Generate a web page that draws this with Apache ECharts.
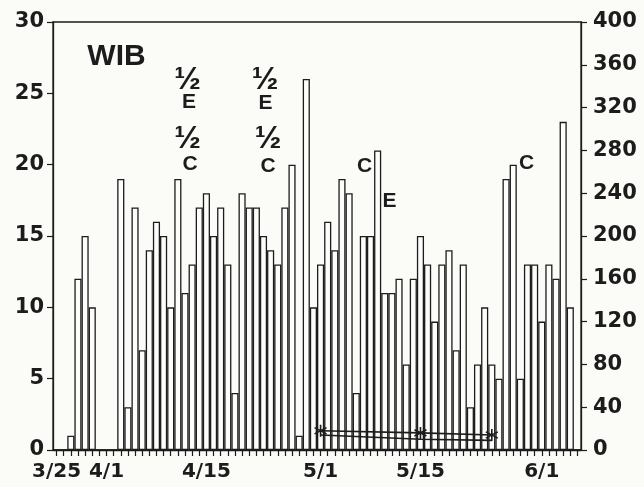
<!DOCTYPE html>
<html>
<head>
<meta charset="utf-8">
<script src="https://cdn.jsdelivr.net/npm/echarts@6/dist/echarts.min.js"></script>
<style>
  html, body { margin: 0; padding: 0; background: #fbfbf8; }
  #chart { width: 644px; height: 487px; }
</style>
</head>
<body>
<div id="chart"></div>
<script>
// Daily dates, 3/25 through 6/6
const days = [
  '3/25','3/26','3/27','3/28','3/29','3/30','3/31',
  '4/1','4/2','4/3','4/4','4/5','4/6','4/7','4/8','4/9','4/10',
  '4/11','4/12','4/13','4/14','4/15','4/16','4/17','4/18','4/19','4/20',
  '4/21','4/22','4/23','4/24','4/25','4/26','4/27','4/28','4/29','4/30',
  '5/1','5/2','5/3','5/4','5/5','5/6','5/7','5/8','5/9','5/10',
  '5/11','5/12','5/13','5/14','5/15','5/16','5/17','5/18','5/19','5/20',
  '5/21','5/22','5/23','5/24','5/25','5/26','5/27','5/28','5/29','5/30','5/31',
  '6/1','6/2','6/3','6/4','6/5','6/6'
];

// Daily counts (left axis)
const dailyCounts = [
  0, 0, 1, 12, 15, 10, 0,
  0, 0, 19, 3, 17, 7, 14, 16, 15, 10,
  19, 11, 13, 17, 18, 15, 17, 13, 4, 18,
  17, 17, 15, 14, 13, 17, 20, 1, 26, 10,
  13, 16, 14, 19, 18, 4, 15, 15, 21, 11,
  11, 12, 6, 12, 15, 13, 9, 13, 14, 7,
  13, 3, 6, 10, 6, 5, 19, 20, 5, 13, 13,
  9, 13, 12, 23, 10, 0
];

// Dates that carry an axis label
const labelledDays = ['3/25', '4/1', '4/15', '5/1', '5/15', '6/1'];

// Two low traces read on the right axis
const markedTrace = [['5/1', 18], ['5/15', 16], ['5/25', 14]];
const lowerTrace  = [['5/1', 14], ['5/15', 10], ['5/25', 9]];

const leftTicks  = { min: 0, max: 30,  interval: 5 };
const rightTicks = { min: 0, max: 400, interval: 40 };

const ink = '#1c1c1c';
const numFont = 'DejaVu Sans';
const noteFont = 'Liberation Sans';

const chart = echarts.init(document.getElementById('chart'), null, { renderer: 'canvas' });

function note(text, x, y, size) {
  return {
    type: 'text', x: x, y: y,
    style: {
      text: text, fill: ink, font: 'bold ' + size + 'px "' + noteFont + '"',
      align: 'center', verticalAlign: 'middle'
    }
  };
}

const asterisk = 'path://M0,-5L0,5M-4.4,-2.6L4.4,2.6M-4.4,2.6L4.4,-2.6';

chart.setOption({
  backgroundColor: '#fbfbf8',
  animation: false,
  grid: {
    left: 53, right: 63, top: 22, bottom: 37,
    show: true, borderColor: ink, borderWidth: 1.3, backgroundColor: 'transparent'
  },
  xAxis: {
    type: 'category',
    data: days,
    boundaryGap: true,
    axisLine: { show: true, lineStyle: { color: ink, width: 1.3 } },
    axisTick: { show: true, alignWithLabel: true, interval: 0, length: 6, lineStyle: { color: ink, width: 1.2 } },
    axisLabel: {
      interval: function (i, v) { return labelledDays.indexOf(v) >= 0; },
      margin: 12,
      color: ink, fontFamily: numFont, fontWeight: 'bold', fontSize: 20
    },
    splitLine: { show: false }
  },
  yAxis: [
    {
      type: 'value', position: 'left',
      min: leftTicks.min, max: leftTicks.max, interval: leftTicks.interval,
      axisLine: { show: true, lineStyle: { color: ink, width: 1.3 } },
      axisTick: { show: true, length: 6, lineStyle: { color: ink, width: 1.2 } },
      axisLabel: { margin: 9, color: ink, fontFamily: numFont, fontWeight: 'bold', fontSize: 21 },
      splitLine: { show: false }
    },
    {
      type: 'value', position: 'right',
      min: rightTicks.min, max: rightTicks.max, interval: rightTicks.interval,
      axisLine: { show: true, lineStyle: { color: ink, width: 1.3 } },
      axisTick: { show: true, length: 6, lineStyle: { color: ink, width: 1.2 } },
      axisLabel: { margin: 12, color: ink, fontFamily: numFont, fontWeight: 'bold', fontSize: 21 },
      splitLine: { show: false }
    }
  ],
  series: [
    {
      type: 'bar',
      yAxisIndex: 0,
      data: dailyCounts,
      barCategoryGap: '0%',
      barGap: '0%',
      itemStyle: { color: '#fdfdfb', borderColor: ink, borderWidth: 1.3 },
      emphasis: { disabled: true }
    },
    {
      type: 'line',
      yAxisIndex: 1,
      data: markedTrace,
      symbol: asterisk,
      symbolSize: 12,
      showAllSymbol: true,
      itemStyle: { color: ink, borderColor: ink, borderWidth: 1.6 },
      lineStyle: { color: ink, width: 1.6 },
      z: 5
    },
    {
      type: 'line',
      yAxisIndex: 1,
      data: lowerTrace,
      symbol: 'none',
      lineStyle: { color: ink, width: 1.6 },
      z: 5
    }
  ],
  graphic: [
    note('WIB', 116.5, 57, 30),
    note('\u00BD', 187.5, 80, 32),
    note('E', 189, 102, 21),
    note('\u00BD', 187.5, 139, 32),
    note('C', 190, 164, 21),
    note('\u00BD', 265, 80, 32),
    note('E', 265.5, 103, 21),
    note('\u00BD', 268, 139, 32),
    note('C', 268, 166, 21),
    note('C', 364.5, 166, 21),
    note('E', 389.5, 201, 21),
    note('C', 526.5, 163, 21)
  ]
});
</script>
</body>
</html>
